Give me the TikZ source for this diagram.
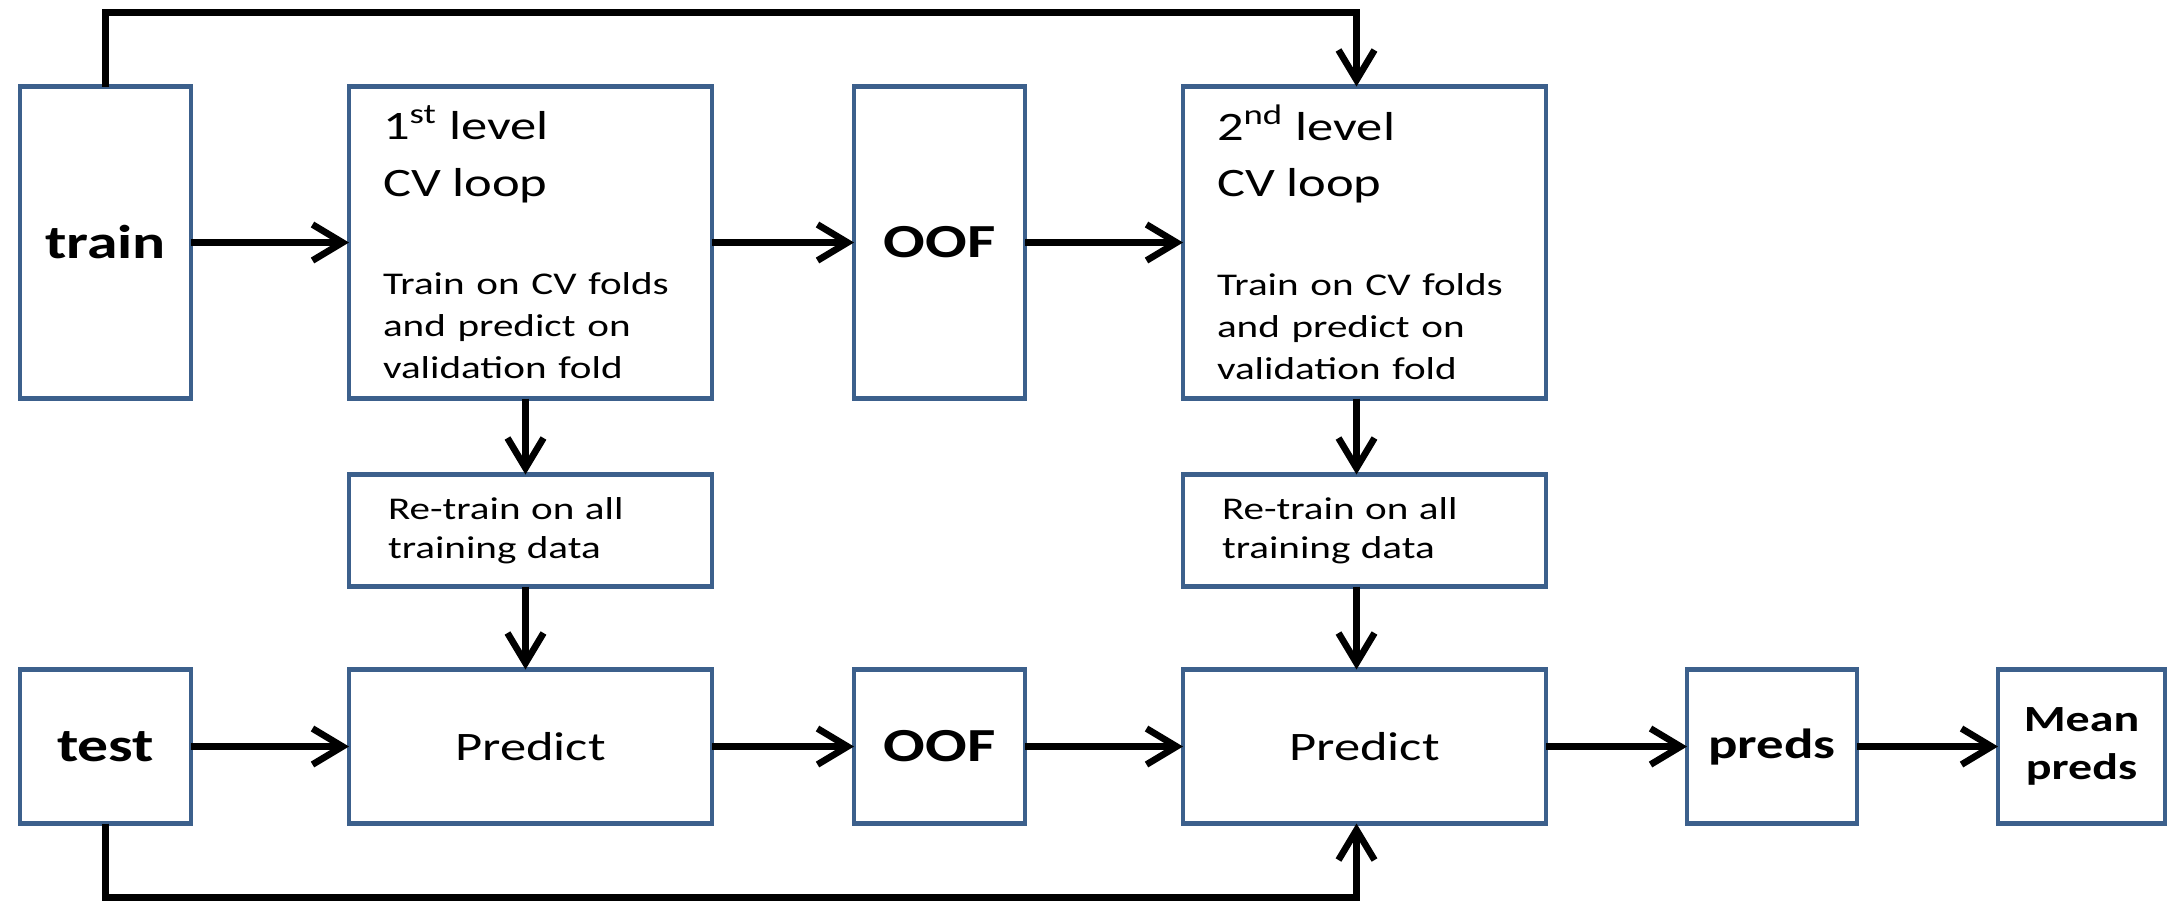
\documentclass[tikz,border=0pt]{standalone}
\usepackage{fontspec}
\setmainfont{Carlito}[FakeStretch=1.3]
\usetikzlibrary{arrows.meta,positioning}
\definecolor{boxline}{RGB}{60,96,140}

\begin{document}
\begin{tikzpicture}[
    node distance=1.42cm,
    box/.style={rectangle, draw=boxline, line width=1.3pt, fill=white, inner sep=0pt, outer sep=0pt},
    tallbox/.style={box, minimum width=1.71cm, minimum height=3.12cm},
    loopbox/.style={box, minimum width=3.63cm, minimum height=3.12cm, align=left, text width=2.95cm},
    retrainbox/.style={box, minimum width=3.63cm, minimum height=1.12cm, align=left, text width=2.85cm},
    predbox/.style={box, minimum width=3.63cm, minimum height=1.54cm},
    smallbox/.style={box, minimum width=1.70cm, minimum height=1.54cm},
    labelfont/.style={font=\bfseries\fontsize{13.5}{16}\selectfont},
    predsfont/.style={font=\bfseries\fontsize{12}{14}\selectfont},
    meanfont/.style={font=\bfseries\fontsize{10.5}{13.5}\selectfont},
    headfont/.style={font=\fontsize{11.5}{16.2}\selectfont},
    notefont/.style={font=\fontsize{9}{11.2}\selectfont},
    arrow/.style={-{Straight Barb[length=3mm, width=3.6mm]}, line width=1.9pt}
]
    \useasboundingbox (0,0) rectangle (21.83,-9.05);

    % Training side
    \node[tallbox, labelfont] (train) at (1.055,-2.425) {train};
    \node[loopbox, right=1.58cm of train] (cv1) {%
        {\fontsize{11.5}{16.2}\selectfont 1\textsuperscript{st} level\\CV loop\par}\vspace{16pt}
        {\fontsize{9}{12}\selectfont Train on CV folds\\and predict on\\validation fold\par}};
    \node[tallbox, labelfont, right=of cv1] (oof1) {OOF};
    \node[loopbox, right=1.58cm of oof1] (cv2) {%
        {\fontsize{11.5}{16.2}\selectfont 2\textsuperscript{nd} level\\CV loop\par}\vspace{16pt}
        {\fontsize{9}{12}\selectfont Train on CV folds\\and predict on\\validation fold\par}};
    \node[retrainbox, notefont, below=0.76cm of cv1] (re1) {Re-train on all\\training data};
    \node[retrainbox, notefont, below=0.76cm of cv2] (re2) {Re-train on all\\training data};

    % Test side
    \node[smallbox, labelfont, minimum width=1.71cm, below=2.71cm of train] (test) {test};
    \node[predbox, headfont, right=1.58cm of test] (pr1) {Predict};
    \node[smallbox, labelfont, minimum width=1.71cm, right=of pr1] (oof2) {OOF};
    \node[predbox, headfont, right=1.58cm of oof2] (pr2) {Predict};
    \node[smallbox, predsfont, right=1.41cm of pr2] (preds) {preds};
    \node[smallbox, meanfont, minimum width=1.67cm, align=center, right=1.41cm of preds] (mean) {Mean\\preds};

    \draw[arrow] (train) -- (cv1);
    \draw[arrow] (cv1) -- (oof1);
    \draw[arrow] (oof1) -- (cv2);
    \draw[arrow] ([xshift=-0.5mm]cv1.south) -- ([xshift=-0.5mm]re1.north);
    \draw[arrow] ([xshift=-0.5mm]re1.south) -- ([xshift=-0.5mm]pr1.north);
    \draw[arrow] ([xshift=-0.8mm]cv2.south) -- ([xshift=-0.8mm]re2.north);
    \draw[arrow] ([xshift=-0.8mm]re2.south) -- ([xshift=-0.8mm]pr2.north);

    \draw[arrow] (test) -- (pr1);
    \draw[arrow] (pr1) -- (oof2);
    \draw[arrow] (oof2) -- (pr2);
    \draw[arrow] (pr2) -- (preds);
    \draw[arrow] (preds) -- (mean);

    % Skip connections
    \draw[arrow] (train.north) -- ++(0,0.74) -| ([xshift=-0.8mm]cv2.north);
    \draw[arrow] (test.south) -- ++(0,-0.74) -| ([xshift=-0.8mm]pr2.south);
\end{tikzpicture}
\end{document}
